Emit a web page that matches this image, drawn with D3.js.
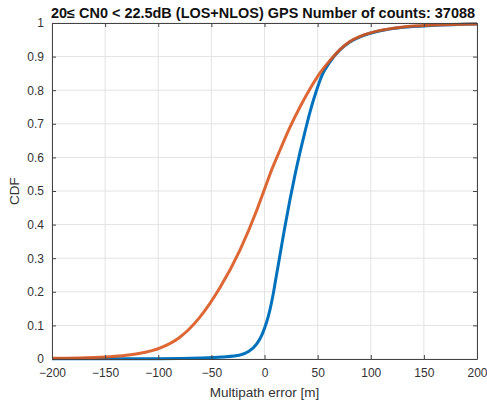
<!DOCTYPE html>
<html><head><meta charset="utf-8">
<script src="https://cdn.jsdelivr.net/npm/d3@7"></script>
<style>body{margin:0;background:#fff}svg{display:block}text{font-family:"Liberation Sans",Arial,sans-serif}</style>
</head><body><svg id="c" width="487" height="405"></svg>
<script>
const xTicks=[-200,-150,-100,-50,0,50,100,150,200];
const yTicks=[0,0.1,0.2,0.3,0.4,0.5,0.6,0.7,0.8,0.9,1];
const blueX=[-200,-150,-100,-60,-40,-23,-15,-7.3,-2,2,5,8.3,11,14.6,19,24,28.5,33.4,38,42.8,48,53.8,62,71,80,90,109,130,160,200];
const blueY=[0.0005,0.0008,0.001,0.003,0.006,0.012,0.022,0.045,0.075,0.11,0.145,0.195,0.245,0.31,0.39,0.475,0.545,0.615,0.675,0.735,0.79,0.842,0.886,0.92,0.943,0.959,0.977,0.987,0.993,0.997];
const redX=[-200,-175,-150,-130,-117,-98,-80,-61,-42,-23,-7,0,7,14.6,24,33.4,43,52,62,71,80,90,109,130,160,200];
const redY=[0.002,0.003,0.006,0.011,0.017,0.033,0.064,0.124,0.212,0.325,0.445,0.505,0.565,0.622,0.69,0.75,0.805,0.85,0.89,0.921,0.944,0.96,0.978,0.988,0.994,0.997];
const titleText="20\u2264 CN0 < 22.5dB (LOS+NLOS) GPS Number of counts: 37088";

const svg=d3.select("#c");
const L=52,R=477,T=23,B=359;
const x=d3.scaleLinear().domain([-200,200]).range([L,R]);
const y=d3.scaleLinear().domain([0,1]).range([B,T]);
const g=svg.append("g");
g.selectAll(".gx").data(xTicks).join("line").attr("x1",d=>x(d)).attr("x2",d=>x(d)).attr("y1",T).attr("y2",B).attr("stroke","#e3e3e3").attr("stroke-width",1);
g.selectAll(".gy").data(yTicks).join("line").attr("y1",d=>y(d)).attr("y2",d=>y(d)).attr("x1",L).attr("x2",R).attr("stroke","#e3e3e3").attr("stroke-width",1);
const line=d3.line().x(d=>x(d[0])).y(d=>y(d[1])).curve(d3.curveMonotoneX);
g.append("path").attr("d",line(blueX.map((v,i)=>[v,blueY[i]]))).attr("fill","none").attr("stroke","#0072BD").attr("stroke-width",3);
g.append("path").attr("d",line(redX.map((v,i)=>[v,redY[i]]))).attr("fill","none").attr("stroke","#D95319").attr("stroke-width",3).attr("stroke-opacity",0.88);
const col="#444";
const ax=svg.append("g").attr("transform",`translate(0,${B})`).call(d3.axisBottom(x).tickValues(xTicks).tickSizeInner(-4).tickSizeOuter(0).tickPadding(9));
const axT=svg.append("g").attr("transform",`translate(0,${T})`).call(d3.axisTop(x).tickValues(xTicks).tickSizeInner(-4).tickSizeOuter(0).tickFormat(""));
const ay=svg.append("g").attr("transform",`translate(${L},0)`).call(d3.axisLeft(y).tickValues(yTicks).tickSizeInner(-4).tickSizeOuter(0).tickPadding(8).tickFormat(d=>d===0?"0":d===1?"1":d3.format(".1f")(d)));
const ayR=svg.append("g").attr("transform",`translate(${R},0)`).call(d3.axisRight(y).tickValues(yTicks).tickSizeInner(-4).tickSizeOuter(0).tickFormat(""));
[ax,axT,ay,ayR].forEach(a=>{a.select(".domain").attr("stroke",col);a.selectAll(".tick line").attr("stroke",col);a.selectAll("text").attr("fill","#333").style("font-size","12px").style("font-family","'Liberation Sans',Arial,sans-serif");});
svg.append("text").attr("x",(L+R)/2).attr("y",397).attr("text-anchor","middle").attr("fill","#333").style("font-size","13.5px").text("Multipath error [m]");
svg.append("text").attr("transform",`translate(19,${(T+B)/2}) rotate(-90)`).attr("text-anchor","middle").attr("fill","#333").style("font-size","13.5px").text("CDF");
svg.append("text").attr("x",263).attr("y",18).attr("text-anchor","middle").attr("fill","#111").style("font-size","14px").style("font-weight","bold").attr("textLength",424).attr("lengthAdjust","spacingAndGlyphs").text(titleText);
</script></body></html>
